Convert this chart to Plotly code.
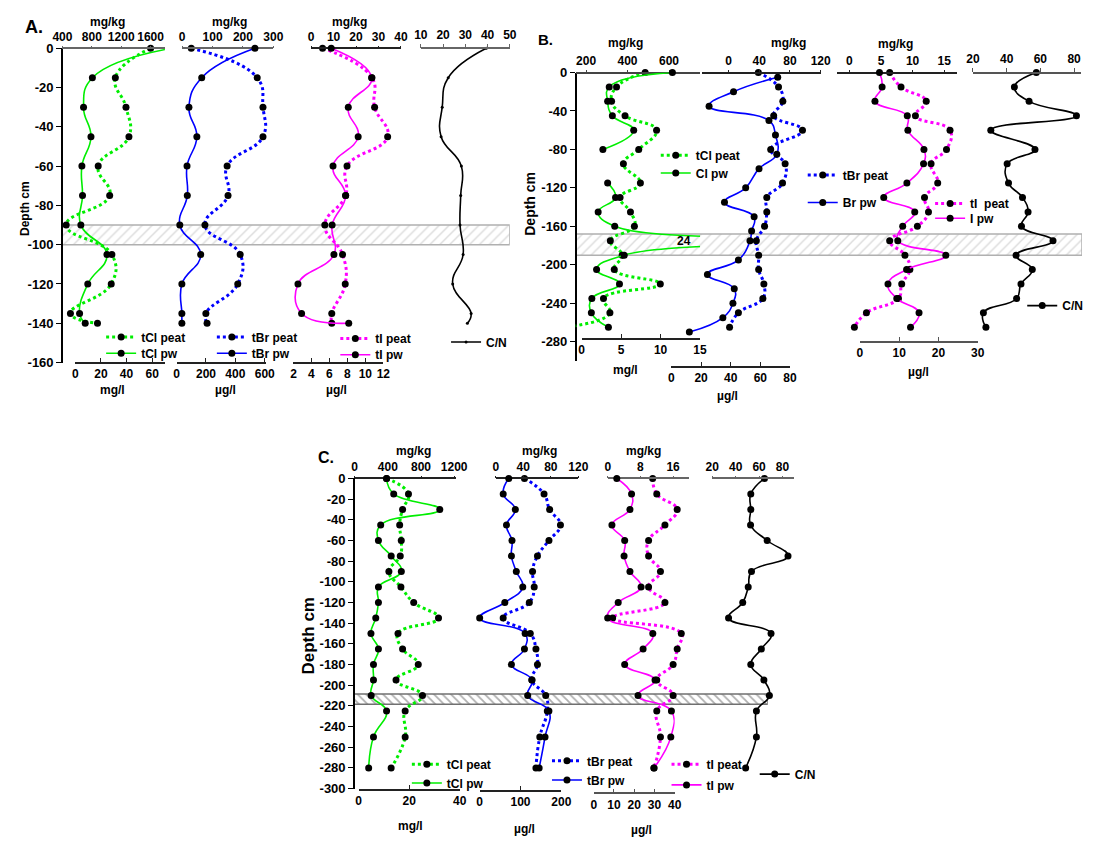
import plotly.graph_objects as go

W, H = 1094, 844
FONT = "Liberation Sans, Arial, Helvetica, sans-serif"

# ------------------------------------------------------------------ data
# Panel A
A_depth = [0, -15, -30, -45, -60, -75, -90, -105, -120, -135, -140]
A_tCl_peat = [1600, 1120, 1265, 1305, 887, 1043, 451, 1073, 1064, 509, 877]
A_tCl_pw = [75, 13.3, 6.4, 12.2, 5.1, 5.6, 4.3, 24.7, 9.7, 3.3, 7.7]
A_tBr_peat = [30, 247, 266, 266, 148, 151, 75, 191, 183, 78, 82]
A_tBr_pw = [533, 171, 84, 138, 71, 73, 22, 164, 36, 36, 36]
A_tI_peat = [5.1, 27.1, 28.3, 34.1, 16.0, 15.4, 6.1, 14.0, 15.2, 9.2, 9.2]
A_tI_pw = [6.2, 10.7, 8.1, 9.2, 6.4, 7.8, 6.3, 6.5, 2.5, 2.9, 8.15]
A_CN = [39.4, 22.3, 19.6, 19.1, 28.2, 27.9, 27.6, 29.0, 24.3, 32.6, 30.9]
A_band = [-100, -90]

# Panel B
B_depth = [0, -15, -30, -45, -60, -80, -95, -115, -130, -145, -160, -175,
           -190, -205, -220, -235, -250, -265]
B_tCl_peat = [485, 347, 323, 388, 540, 454, 380, 462, 364, 414, 433, 317,
              374, 336, 558, 284, 315, 100]
B_Cl_pw = [11.5, 3.5, 3.3, 3.9, 6.6, 2.7, None, 3.3, 4.3, 2.1, 4.2, 24,
           5.4, 1.9, 4.8, 1.3, 1.24, 3.4]
B_tBr_peat = [38.8, 65.1, 70.7, 58.8, 96.3, 54.9, 73.7, 70.3, 49.8, 49.8, 46.9,
              36.2, 39.2, 39.2, 46.0, 44.7, 12.8, 1.3]
B_Br_pw_depth = [-5, -20, -35, -50, -65, -85, -100, -120, -135, -150, -165, -175,
                 -195, -210, -225, -240, -255, -270]
B_Br_pw = [71.7, 41.9, 25.4, 65.8, 70.2, 71.1, 59.1, 50.1, 35.8, 55.8, 54.1, 53,
           45.2, 24.3, 42.4, 41.5, 34.7, 12.1]
B_tI_peat = [6.37, 8.17, 12.16, 10.45, 15.93, 15.37, 12.93, 13.98, 11.89, 12.52,
             10.76, 6.37, 8.79, 9.57, 8.28, 7.76, 2.69, 0.78]
B_I_pw = [4.99, 5.66, 3.84, 12.07, 12.22, 16.31, 16.21, 11.97, 6.08, 13.97, 10.9,
          9.65, 21.87, 11.9, 7.16, 9.4, 15.06, 12.89]
B_CN = [57.6, 44.6, 53.3, 81.4, 30.6, 56.8, 40.3, 41.1, 49.4, 52.7, 48.8, 67.5,
        45.6, 55.2, 48.5, 45.9, 26.2, 27.7]
B_band = [-190, -168]
B_spike_label = "24"

# Panel C
C_depth = [0, -15, -30, -45, -60, -75, -90, -105, -120, -135, -150, -165, -180,
           -195, -210, -225, -250, -280]
C_tCl_peat = [385, 649, 578, 543, 562, 550, 413, 558, 712, 1011, 523, 578, 767,
              499, 818, 609, 609, 440]
C_tCl_pw = [11.07, 13.9, 32.1, 8.75, 7.86, 12.9, 16.9, 7.86, 7.86, 6.8, 4.9, 7.86,
            5.9, 5.9, 5.0, 11.07, 5.9, 4.0]
C_tBr_peat = [41.7, 70.2, 78.3, 94, 77.3, 60.6, 53.5, 55.9, 48.8, 10.8, 50.2, 58.4,
              60.6, 52.5, 72.6, 74.9, 64, 58.4]
C_tBr_pw = [71.2, 57.6, 87.3, 65.7, 79.1, 77.7, 89.7, 105.5, 61.6, 0, 111.3, 109.6,
            77.7, 128, 117.5, 169.5, 160, 145.6]
C_tI_peat = [11.0, 12.0, 17.0, 14.0, 10.0, 10.0, 12.9, 10.0, 14.0, 1.2, 18.0, 17.0,
             16.0, 12.0, 16.0, 12.0, 12.9, 11.3]
C_tI_pw = [11.4, 18.7, 17.9, 9.0, 15.3, 15.0, 17.9, 23.4, 12.1, 6.9, 29.2, 24.4,
           15.3, 30.3, 21.9, 38.4, 38.1, 29.8]
C_CN = [64.6, 52.9, 52.9, 52.7, 66.9, 84.7, 53.5, 50.7, 46, 33.9, 70.2, 61.9, 52.9,
        64.1, 68.8, 57.7, 57.7, 48.5]
C_band = [-218.5, -208.5]

# tick labels
A_depth_ticks = [0, -20, -40, -60, -80, -100, -120, -140, -160]
A_Cl_top_ticks = [400, 800, 1200, 1600]
A_Cl_bot_ticks = [0, 20, 40, 60]
A_Br_top_ticks = [0, 100, 200, 300]
A_Br_bot_ticks = [0, 200, 400, 600]
A_I_top_ticks = [0, 10, 20, 30, 40]
A_I_bot_ticks = [2, 4, 6, 8, 10, 12]
A_CN_ticks = [10, 20, 30, 40, 50]

B_depth_ticks = [0, -40, -80, -120, -160, -200, -240, -280]
B_Cl_top_ticks = [200, 400, 600]
B_Cl_bot_ticks = [0, 5, 10, 15]
B_Br_top_ticks = [0, 40, 80, 120]
B_Br_bot_ticks = [0, 20, 40, 60, 80]
B_I_top_ticks = [0, 5, 10, 15]
B_I_bot_ticks = [0, 10, 20, 30]
B_CN_ticks = [20, 40, 60, 80]

C_depth_ticks = [0, -20, -40, -60, -80, -100, -120, -140, -160, -180, -200, -220,
                 -240, -260, -280, -300]
C_Cl_top_ticks = [0, 400, 800, 1200]
C_Cl_bot_ticks = [0, 20, 40]
C_Br_top_ticks = [0, 40, 80, 120]
C_Br_bot_ticks = [0, 100, 200]
C_I_top_ticks = [0, 8, 16]
C_I_bot_ticks = [0, 10, 20, 30, 40]
C_CN_ticks = [20, 40, 60, 80]

GREEN, BLUE, MAGENTA, BLACK = "#00ee00", "#0000ff", "#ff00ff", "#000000"

# ------------------------------------------------------------------ helpers
layout = {}
traces = []
annotations = []


def fx(px):
    return px / W


def fy(py):
    return 1 - py / H


def tfont(size=12):
    return dict(family=FONT, size=size, color="black", weight="bold")


xcount = [0]
ycount = [0]
lcount = [0]


def new_x(rng, px0, px1, side, pos_py, tickvals=None, visible=True,
          linecolor="#222222", ticklen=4):
    xcount[0] += 1
    n = xcount[0]
    key = "xaxis" if n == 1 else f"xaxis{n}"
    ref = "x" if n == 1 else f"x{n}"
    d = dict(domain=[fx(px0), fx(px1)], range=rng, anchor="free",
             position=fy(pos_py), side=side, showgrid=False, zeroline=False,
             fixedrange=True)
    if visible:
        d.update(showline=True, linecolor=linecolor, linewidth=1.5,
                 ticks="outside" if side == "top" else "inside",
                 ticklen=ticklen, tickwidth=1.2, tickcolor=linecolor,
                 tickvals=tickvals, ticktext=[str(v) for v in tickvals],
                 tickfont=tfont(12))
    else:
        d.update(visible=False)
    layout[key] = d
    return ref


def new_y(rng, py_top, py_bot, x_px, tickvals, size=13):
    ycount[0] += 1
    n = ycount[0]
    key = "yaxis" if n == 1 else f"yaxis{n}"
    ref = "y" if n == 1 else f"y{n}"
    layout[key] = dict(domain=[fy(py_bot), fy(py_top)], range=rng,
                       anchor="free", position=fx(x_px), side="left",
                       showgrid=False, zeroline=False, showline=True,
                       linecolor="black", linewidth=1.5, ticks="outside",
                       ticklen=5, tickwidth=1.2, tickcolor="black",
                       tickvals=tickvals, ticktext=[str(v) for v in tickvals],
                       tickfont=tfont(size), fixedrange=True)
    return ref


def new_legend(text_left_px, center_py):
    lcount[0] += 1
    n = lcount[0]
    key = "legend" if n == 1 else f"legend{n}"
    layout[key] = dict(x=fx(text_left_px - 42), y=fy(center_py),
                       xanchor="left", yanchor="middle",
                       bgcolor="rgba(0,0,0,0)", borderwidth=0,
                       font=tfont(12), itemwidth=30, tracegroupgap=0)
    return key


def series(x, y, xref, yref, color, dotted, name=None, legend=None, msize=7):
    traces.append(go.Scatter(
        x=x, y=y, xaxis=xref, yaxis=yref, mode="lines+markers",
        line=dict(color=color, width=3 if dotted else 1.6,
                  dash="dot" if dotted else "solid", shape="spline",
                  smoothing=1.3),
        marker=dict(color="black", size=msize),
        name=name, showlegend=legend is not None,
        legend=legend if legend else "legend",
        cliponaxis=False, connectgaps=False, hoverinfo="skip"))


def band(depths, xref, yref, shape, fg, edge, size, solidity):
    lo, hi = depths
    traces.append(go.Scatter(
        x=[0, 1, 1, 0, 0], y=[lo, lo, hi, hi, lo], xaxis=xref, yaxis=yref,
        mode="lines", fill="toself", fillcolor="white",
        fillpattern=dict(shape=shape, fgcolor=fg, bgcolor="white", size=size,
                         solidity=solidity),
        line=dict(color=edge, width=1.5), showlegend=False, hoverinfo="skip"))


def note(text, x, y, size=12, angle=0):
    annotations.append(dict(text=text, x=fx(x), y=fy(y), xref="paper",
                            yref="paper", showarrow=False, font=tfont(size),
                            xanchor="center", yanchor="middle", textangle=angle))


# ------------------------------------------------------------------ Panel A
yA = new_y([-160, 0], 42, 362, 53, A_depth_ticks)
xA_band = new_x([0, 1], 53, 510, "top", 42, visible=False)
band(A_band, xA_band, yA, "/", "#b8b8b8", "#b0b0b0", 7, 0.2)

xA1 = new_x([400, 1800], 53.5, 158.5, "top", 42, A_Cl_top_ticks, linecolor="#666666", ticklen=2)
xA2 = new_x([0, 70], 66.7, 158.1, "bottom", 362, A_Cl_bot_ticks)
xA3 = new_x([0, 300], 175.7, 268.7, "top", 42, A_Br_top_ticks, linecolor="#666666", ticklen=2)
xA4 = new_x([0, 610], 170, 261.5, "bottom", 362, A_Br_bot_ticks)
xA5 = new_x([0, 40], 307.3, 398.9, "top", 42, A_I_top_ticks, ticklen=2)
xA6 = new_x([2, 12], 289.3, 381, "bottom", 362, A_I_bot_ticks)
xA7 = new_x([10, 50], 419.3, 510.1, "top", 42, A_CN_ticks, linecolor="#666666")

series(A_tCl_peat, A_depth, xA1, yA, GREEN, True, "tCl peat", new_legend(135, 336))
series(A_tCl_pw, A_depth, xA2, yA, GREEN, False, "tCl pw", new_legend(135, 352.5))
series(A_tBr_peat, A_depth, xA3, yA, BLUE, True, "tBr peat", new_legend(248, 336))
series(A_tBr_pw, A_depth, xA4, yA, BLUE, False, "tBr pw", new_legend(248, 352.5))
series(A_tI_peat, A_depth, xA5, yA, MAGENTA, True, "tI peat", new_legend(374, 337.5))
series(A_tI_pw, A_depth, xA6, yA, MAGENTA, False, "tI pw", new_legend(374, 354))
series(A_CN, A_depth, xA7, yA, BLACK, False, "C/N", new_legend(487, 341), msize=3)

note("A.", 24, 20, 18)
note("Depth cm", 16, 205, 12, -90)
for t, x in (("mg/kg", 99), ("mg/kg", 224), ("mg/kg", 346)):
    note(t, x, 15, 12)
for t, x in (("mg/l", 105), ("µg/l", 220), ("µg/l", 333)):
    note(t, x, 390, 12)

# ------------------------------------------------------------------ Panel B
yB = new_y([-300, 0], 66.7, 360.3, 577.3, B_depth_ticks)
xB_band = new_x([0, 1], 577.3, 1094, "top", 66.7, visible=False)
band(B_band, xB_band, yB, "/", "#b8b8b8", "#b0b0b0", 7, 0.2)

xB1 = new_x([150, 750], 577.3, 704.3, "top", 66.7, B_Cl_top_ticks, linecolor="#444444", ticklen=2)
xB2 = new_x([0, 15], 583.3, 704.2, "bottom", 338, B_Cl_bot_ticks)
xB3 = new_x([-35, 120], 705.9, 827.3, "top", 66.7, B_Br_top_ticks, ticklen=2)
xB4 = new_x([0, 80], 675, 796, "bottom", 366.7, B_Br_bot_ticks)
xB5 = new_x([-2, 17], 843.8, 966.2, "top", 66.7, B_I_top_ticks, ticklen=2)
xB6 = new_x([0, 30], 867.3, 987.6, "bottom", 340.7, B_I_bot_ticks, linecolor="#555555")
xB7 = new_x([20, 84], 982.7, 1092.8, "top", 66.7, B_CN_ticks, linecolor="#555555")

series(B_tCl_peat, B_depth, xB1, yB, GREEN, True, "tCl peat", new_legend(701, 151))
series(B_Cl_pw, B_depth, xB2, yB, GREEN, False, "Cl pw", new_legend(701, 169))
series(B_tBr_peat, B_depth, xB3, yB, BLUE, True, "tBr peat", new_legend(851, 171))
series(B_Br_pw, B_Br_pw_depth, xB4, yB, BLUE, False, "Br pw", new_legend(851, 199))
series(B_tI_peat, B_depth, xB5, yB, MAGENTA, True, "tI  peat", new_legend(981, 200))
series(B_I_pw, B_depth, xB6, yB, MAGENTA, False, "I pw", new_legend(981, 215))
series(B_CN, B_depth, xB7, yB, BLACK, False, "C/N", new_legend(1075, 304))

note(B_spike_label, 688, 238, 12)
note("B.", 546, 33, 15)
note("Depth cm", 531, 200, 14, -90)
for t, x, y in (("mg/kg", 628, 37), ("mg/kg", 794, 37), ("mg/kg", 904, 38)):
    note(t, x, y, 12)
for t, x, y in (("mg/l", 628, 370), ("µg/l", 732, 396), ("µg/l", 927, 372)):
    note(t, x, y, 12)

# ------------------------------------------------------------------ Panel C
yC = new_y([-300, 0], 480, 795.7, 351, C_depth_ticks)
xC_band = new_x([0, 1], 351, 773.3, "top", 480, visible=False)
band(C_band, xC_band, yC, "\\", "#606060", "#707070", 6, 0.3)

xC1 = new_x([0, 1220], 351.7, 455, "top", 480, C_Cl_top_ticks, ticklen=2)
xC2 = new_x([0, 40], 355.7, 459, "bottom", 796.7, C_Cl_bot_ticks)
xC3 = new_x([0, 120], 495.7, 580, "top", 480, C_Br_top_ticks, ticklen=2)
xC4 = new_x([0, 200], 479.3, 562.7, "bottom", 798, C_Br_bot_ticks)
xC5 = new_x([0, 20], 610, 693.4, "top", 480, C_I_top_ticks, linecolor="#666666", ticklen=2)
xC6 = new_x([0, 40], 595.7, 678.3, "bottom", 800.7, C_I_bot_ticks, linecolor="#555555")
xC7 = new_x([20, 90], 716.7, 800.3, "top", 480, C_CN_ticks, linecolor="#666666", ticklen=2)

series(C_tCl_peat, C_depth, xC1, yC, GREEN, True, "tCl peat", new_legend(447, 771))
series(C_tCl_pw, C_depth, xC2, yC, GREEN, False, "tCl pw", new_legend(447, 790))
series(C_tBr_peat, C_depth, xC3, yC, BLUE, True, "tBr peat", new_legend(590, 767.5))
series(C_tBr_pw, C_depth, xC4, yC, BLUE, False, "tBr pw", new_legend(590, 787))
series(C_tI_peat, C_depth, xC5, yC, MAGENTA, True, "tI peat", new_legend(712, 771))
series(C_tI_pw, C_depth, xC6, yC, MAGENTA, False, "tI pw", new_legend(712, 792))
series(C_CN, C_depth, xC7, yC, BLACK, False, "C/N", new_legend(802, 781))

note("C.", 322, 459, 16)
note("Depth cm", 305, 640, 17, -90)
for t, x in (("mg/kg", 412), ("mg/kg", 540), ("mg/kg", 647)):
    note(t, x, 452, 12)
for t, x, y in (("mg/l", 409, 834), ("µg/l", 525, 837), ("µg/l", 644, 838)):
    note(t, x, y, 12)

# ------------------------------------------------------------------ figure
fig = go.Figure(data=traces)
fig.update_layout(**layout)
fig.update_layout(width=W, height=H, margin=dict(l=0, r=0, t=0, b=0),
                  paper_bgcolor="white", plot_bgcolor="rgba(0,0,0,0)",
                  annotations=annotations, font=dict(family=FONT),
                  hovermode=False)
fig.write_html("out.html", config={"displayModeBar": False})
